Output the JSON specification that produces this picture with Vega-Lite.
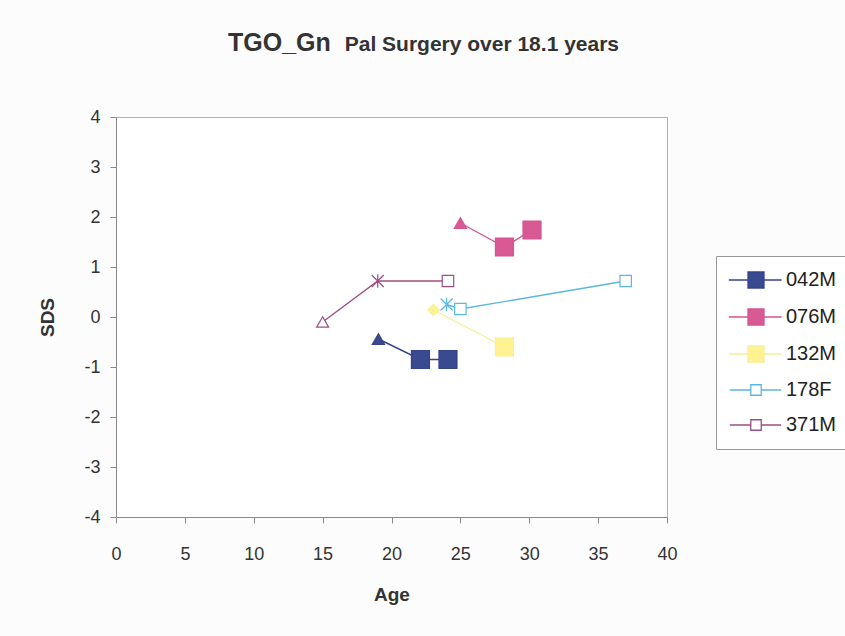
{
  "$schema": "https://vega.github.io/schema/vega-lite/v6.json",
  "autosize": {"type": "none"},
  "padding": {"left": 116, "top": 117, "right": 178, "bottom": 119},
  "width": 551,
  "height": 400,
  "background": "#fcfcfc",
  "title": {
    "text": "TGO_Gn",
    "subtitle": "\u200b\u00a0\u00a0\u00a0\u00a0\u00a0\u00a0\u00a0\u00a0\u00a0\u00a0\u00a0\u00a0\u00a0\u00a0\u00a0\u00a0\u00a0\u00a0\u00a0\u00a0Pal Surgery over 18.1 years",
    "anchor": "start",
    "frame": "group",
    "dx": 112,
    "offset": 52,
    "font": "Liberation Sans",
    "fontSize": 25,
    "fontWeight": "bold",
    "color": "#333333",
    "subtitleFont": "Liberation Sans",
    "subtitleFontSize": 21,
    "subtitleFontWeight": "bold",
    "subtitleColor": "#333333",
    "subtitlePadding": -22
  },
  "data": {
    "values": [
      {"series": "042M", "age": 19.05, "sds": -0.44, "marker": "tri"},
      {"series": "042M", "age": 22.1, "sds": -0.85, "marker": "sq"},
      {"series": "042M", "age": 24.1, "sds": -0.85, "marker": "sq"},
      {"series": "076M", "age": 25.0, "sds": 1.88, "marker": "tri"},
      {"series": "076M", "age": 28.2, "sds": 1.4, "marker": "sq"},
      {"series": "076M", "age": 30.2, "sds": 1.74, "marker": "sq"},
      {"series": "132M", "age": 23.05, "sds": 0.14, "marker": "dia"},
      {"series": "132M", "age": 28.2, "sds": -0.6, "marker": "sq"},
      {"series": "178F", "age": 24.0, "sds": 0.25, "marker": "star"},
      {"series": "178F", "age": 25.0, "sds": 0.16, "marker": "osq"},
      {"series": "178F", "age": 37.0, "sds": 0.72, "marker": "osq"},
      {"series": "371M", "age": 15.0, "sds": -0.1, "marker": "otri"},
      {"series": "371M", "age": 19.0, "sds": 0.72, "marker": "star"},
      {"series": "371M", "age": 24.1, "sds": 0.72, "marker": "osq"}
    ]
  },
  "encoding": {
    "x": {
      "field": "age", "type": "quantitative", "title": "Age",
      "scale": {"domain": [0, 40], "nice": false},
      "axis": {"values": [0, 5, 10, 15, 20, 25, 30, 35, 40], "labelPadding": 22, "titlePadding": 22, "labelFlush": false}
    },
    "y": {
      "field": "sds", "type": "quantitative", "title": "SDS",
      "scale": {"domain": [-4, 4], "nice": false},
      "axis": {"values": [-4, -3, -2, -1, 0, 1, 2, 3, 4], "labelPadding": 10, "titlePadding": 26, "labelFlush": false, "labelExpr": "'' + datum.value"}
    },
    "color": {
      "field": "series", "type": "nominal",
      "scale": {
        "domain": ["042M", "076M", "132M", "178F", "371M"],
        "range": ["#34448a", "#d6548f", "#f7ef9a", "#5bb7df", "#9a5083"]
      },
      "legend": {
        "title": null,
        "encode": {
          "symbols": {
            "update": {
              "size": {"signal": "(datum.value === '178F' || datum.value === '371M') ? 110 : 256"},
              "shape": {"signal": "(datum.value === '178F' || datum.value === '371M') ? 'M-5,0H-1M1,0H4.8M-1,-1H1V1H-1Z' : 'M-3.4,0H-1M1,0H3.2M-1,-1H1V1H-1Z'"}
            }
          }
        }
      }
    }
  },
  "layer": [
    {
      "mark": {"type": "line", "strokeWidth": 1.4}
    },
    {
      "mark": {"type": "point", "opacity": 1, "strokeWidth": 1.2},
      "encoding": {
        "fill": {
          "field": "series", "type": "nominal",
          "scale": {
            "domain": ["042M", "076M", "132M", "178F", "371M"],
            "range": ["#3a4a90", "#d85a95", "#fff291", "#ffffff", "#ffffff"]
          },
          "legend": {"title": null}
        },
        "shape": {
          "field": "marker", "type": "nominal", "legend": null,
          "scale": {
            "domain": ["tri", "sq", "dia", "star", "osq", "otri"],
            "range": ["triangle-up", "square", "diamond", "M0,-1V1M-0.9,-0.9L0.9,0.9M-0.9,0.9L0.9,-0.9", "square", "triangle-up"]
          }
        },
        "size": {
          "field": "marker", "type": "nominal", "legend": null,
          "scale": {"type": "ordinal", "domain": ["tri", "sq", "dia", "star", "osq", "otri"], "range": [150, 324, 130, 180, 130, 144]}
        }
      }
    }
  ],
  "config": {
    "font": "Liberation Sans",
    "view": {"stroke": "#b0b0b0", "strokeWidth": 1, "fill": "#ffffff"},
    "axis": {
      "grid": false,
      "domainColor": "#8a8a8a",
      "tickColor": "#8a8a8a",
      "tickSize": 6,
      "labelColor": "#333333",
      "labelFontSize": 18,
      "labelFont": "Liberation Sans",
      "titleFont": "Liberation Sans",
      "titleFontSize": 19,
      "titleFontWeight": "bold",
      "titleColor": "#333333"
    },
    "legend": {
      "orient": "none",
      "legendX": 600,
      "legendY": 139,
      "strokeColor": "#999999",
      "fillColor": "#ffffff",
      "padding": 14,
      "labelFont": "Liberation Sans",
      "labelFontSize": 20,
      "labelColor": "#222222",
      "labelOffset": 20,
      "symbolType": "M-3.4,0H-1M1,0H3.2M-1,-1H1V1H-1Z",
      "symbolSize": 256,
      "symbolStrokeWidth": 1.3,
      "symbolOffset": 16,
      "rowPadding": 15
    }
  }
}
